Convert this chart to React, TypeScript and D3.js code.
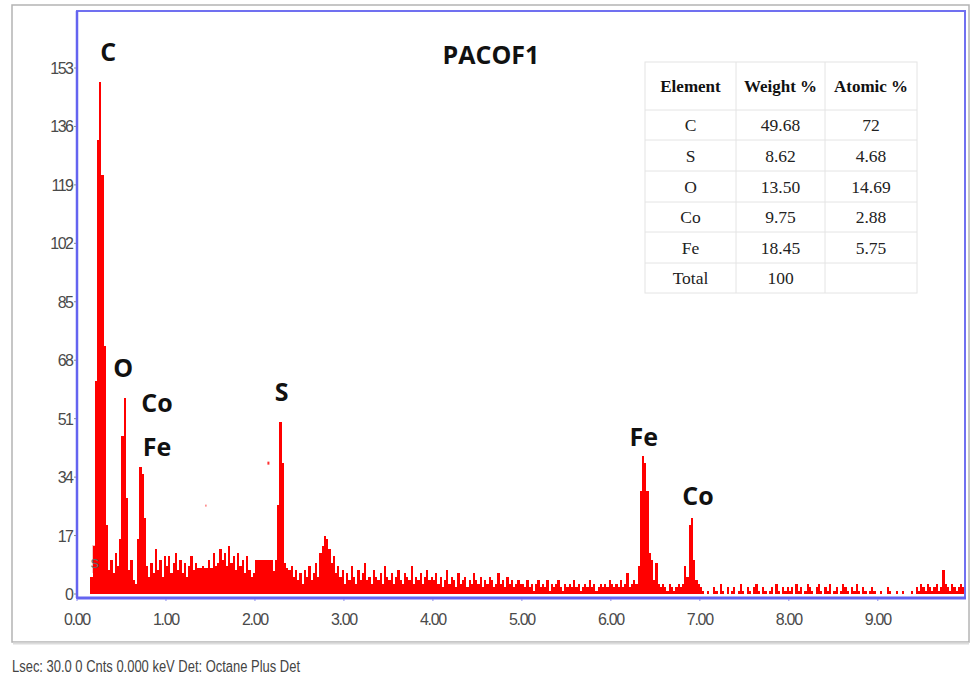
import React from "react";
import * as d3 from "d3";

// ---------- DATA ----------
const chartTitle = "PACOF1";
const footerText = "Lsec: 30.0 0 Cnts  0.000 keV Det: Octane Plus Det";

const xTicks = [0, 1, 2, 3, 4, 5, 6, 7, 8, 9];
const yTicks = [0, 17, 34, 51, 68, 85, 102, 119, 136, 153];

const channelStart = 0.15; // keV
const channelWidth = 0.025; // keV

// counts, per keV segment (0.025 keV channels)
const seg0 = [5, 14, 62, 132, 149, 122, 72, 20, 7, 10, 6, 12, 8, 16, 46, 57, 28, 7, 10, 4, 3, 16, 37, 35, 22, 8, 5, 9, 6, 13, 7, 10, 5, 11];
const seg1 = [8, 11, 6, 9, 12, 7, 10, 6, 9, 5, 8, 11, 7, 9, 7.5, 7.5, 8, 7.5, 7.5, 10, 7.5, 12, 8, 9, 13, 10, 12, 8, 14, 9, 11, 7, 12, 8, 10, 6, 11, 7, 5, 6];
const seg2 = [9.8, 9.8, 9.8, 9.8, 9.8, 9.8, 9.8, 9.8, 6.7, 10, 26, 50, 38, 9, 7.5, 7, 8, 5, 7, 4, 6, 3, 7, 5, 8, 4, 6, 9, 5, 12, 14, 17, 16, 13, 9, 11, 6, 8, 5, 7];
const seg3 = [3, 6, 4, 8, 5, 3, 7, 4, 6, 9, 4, 5, 3, 7, 5, 4, 6, 3, 8, 5, 4, 6, 3, 5, 7, 4, 3, 6, 5, 4, 8, 3, 5, 4, 6, 3, 5, 7, 4, 5];
const seg4 = [4, 6, 3, 5, 2, 4, 7, 3, 5, 4, 2, 6, 3, 4, 5, 2, 4, 3, 6, 4, 3, 5, 2, 4, 3, 5, 4, 2, 3, 6, 3, 4, 2, 5, 3, 4, 2, 3, 4, 3];
const seg5 = [3, 2, 4, 2, 3, 1, 3, 4, 2, 3, 2, 4, 1, 3, 2, 3, 4, 2, 1, 3, 2, 3, 2, 4, 2, 3, 1, 2, 3, 2, 4, 2, 3, 1, 2, 3, 2, 3, 2, 4];
const seg6 = [3, 2, 3, 2, 4, 2, 3, 6, 2, 3, 4, 3, 8, 30, 40, 38, 30, 12, 10, 4, 9, 3, 2, 3, 2, 1, 3, 2, 1, 2, 3, 2, 3, 8, 5, 20, 22, 10, 4, 3];
const seg7 = [2, 1, 0, 1, 0, 0, 2, 1, 0, 3, 1, 0, 2, 0, 1, 2, 0, 1, 3, 1, 0, 2, 1, 0, 2, 3, 1, 0, 2, 1, 0, 1, 2, 0, 3, 1, 0, 2, 1, 2];
const seg8 = [1, 2, 0, 3, 1, 2, 0, 1, 3, 2, 1, 0, 2, 3, 1, 0, 2, 1, 3, 0, 1, 2, 0, 1, 3, 2, 1, 0, 2, 1, 3, 1, 0, 2, 1, 0, 1, 2, 1, 0];
const seg9 = [0, 1, 0, 0, 2, 1, 0, 0, 1, 0, 0, 1, 0, 0, 0, 1, 0, 2, 1, 3, 2, 1, 3, 2, 1, 2, 3, 1, 2, 7, 3, 2, 1, 3, 2, 1, 2, 3, 2];

const peakLabels = ["C", "O", "Co", "Fe", "S", "Fe", "Co"];
const peakLabelEnergy = [0.35, 0.52, 0.9, 0.9, 2.3, 6.37, 6.98];
const peakLabelCounts = [155, 63, 53, 40, 56, 43, 26];

const tableHeader = ["Element", "Weight %", "Atomic %"];
const tableElements = ["C", "S", "O", "Co", "Fe", "Total"];
const tableWeight = ["49.68", "8.62", "13.50", "9.75", "18.45", "100"];
const tableAtomic = ["72", "4.68", "14.69", "2.88", "5.75", ""];

// ---------- CHART ----------
const W = 970;
const H = 683;

export default function App() {
  const counts = [...seg0, ...seg1, ...seg2, ...seg3, ...seg4, ...seg5, ...seg6, ...seg7, ...seg8, ...seg9];
  const channels = counts.map((c, i) => ({ e: channelStart + i * channelWidth, c }));

  const x = d3.scaleLinear().domain([0, 9.98]).range([77, 965]);
  const y = d3.scaleLinear().domain([0, 153]).range([594, 68]);

  const frameTop = 11;
  const frameBottom = 598;

  // table layout
  const tX = [645, 736, 825, 917];
  const tY = [62, 110, 140, 171, 202, 232, 263, 293];

  const tickFont = "'Liberation Sans', Arial, sans-serif";
  const boldFont = "'Open Sans', 'Liberation Sans', sans-serif";
  const serif = "'Liberation Serif', 'Times New Roman', serif";

  return (
    <svg width={W} height={H} style={{ position: "absolute", left: 0, top: 0, background: "#fff" }}>
      {/* outer gray frame */}
      <rect x={12} y={5} width={957} height={637} fill="#fff" stroke="#b4b4b4" strokeWidth={1.5} />
      <line x1={13} x2={969} y1={643.5} y2={643.5} stroke="#dcdcdc" strokeWidth={2} />

      {/* ROI marker */}
      <rect x={x(0.17)} y={545} width={x(0.28) - x(0.17)} height={28} fill="#f08c8c" opacity={0.55} />

      {/* spectrum */}
      <g>
        {channels.map((d, i) =>
          d.c > 0 ? (
            <rect
              key={i}
              x={x(d.e)}
              y={y(d.c)}
              width={x(d.e + channelWidth) - x(d.e)}
              height={y(0) - y(d.c)}
              fill="#ff0000"
              shapeRendering="crispEdges"
            />
          ) : null
        )}
      </g>
      <text x={x(0.2)} y={568} fontFamily={tickFont} fontSize={13} fill="#666" textAnchor="middle">S</text>

      {/* stray dots */}
      <rect x={x(2.14)} y={y(38.5)} width={2} height={3} fill="#ff3030" />
      <rect x={x(1.44)} y={y(26)} width={1.5} height={2} fill="#ff8080" />

      {/* plot frame */}
      <rect x={77} y={frameTop} width={888} height={frameBottom - frameTop} fill="none" stroke="#7070f0" strokeWidth={2} />
      <line x1={77} x2={966} y1={frameBottom} y2={frameBottom} stroke="#6464f0" strokeWidth={3} />
      <line x1={77} x2={77} y1={frameTop} y2={frameBottom} stroke="#6464f0" strokeWidth={2.5} />

      {/* y ticks */}
      {yTicks.map((t) => (
        <g key={t}>
          <line x1={74} x2={76} y1={y(t)} y2={y(t)} stroke="#888" />
          <text
            x={72.5}
            y={y(t) + 6}
            textAnchor="end"
            fontFamily={tickFont}
            fontSize={16}
            letterSpacing={-1.5}
            fill="#4a4a4a"
          >
            {t}
          </text>
        </g>
      ))}

      {/* x ticks */}
      {xTicks.map((t) => (
        <g key={t}>
          <line x1={x(t)} x2={x(t)} y1={frameBottom + 1} y2={frameBottom + 3} stroke="#8888ee" />
          <text
            x={x(t)}
            y={625}
            textAnchor="middle"
            fontFamily={tickFont}
            fontSize={16}
            letterSpacing={-1.3}
            fill="#4a4a4a"
          >
            {t.toFixed(2)}
          </text>
        </g>
      ))}

      {/* title */}
      <text x={491} y={64} textAnchor="middle" fontFamily={boldFont} fontWeight="bold" fontSize={25} fill="#111">
        {chartTitle}
      </text>

      {/* peak labels */}
      {peakLabels.map((l, i) => (
        <text
          key={i}
          x={x(peakLabelEnergy[i])}
          y={y(peakLabelCounts[i])}
          textAnchor="middle"
          fontFamily={boldFont}
          fontWeight="bold"
          fontSize={25}
          fill="#111"
        >
          {l}
        </text>
      ))}

      {/* table */}
      <g>
        <rect x={tX[0]} y={tY[0]} width={tX[3] - tX[0]} height={tY[7] - tY[0]} fill="#fff" stroke="#e4e4e4" />
        {tY.slice(1, 7).map((yy, i) => (
          <line key={"h" + i} x1={tX[0]} x2={tX[3]} y1={yy} y2={yy} stroke="#e4e4e4" />
        ))}
        {tX.slice(1, 3).map((xx, i) => (
          <line key={"v" + i} x1={xx} x2={xx} y1={tY[0]} y2={tY[7]} stroke="#e4e4e4" />
        ))}
        {tableHeader.map((h, i) => (
          <text
            key={h}
            x={(tX[i] + tX[i + 1]) / 2}
            y={92}
            textAnchor="middle"
            fontFamily={serif}
            fontWeight="bold"
            fontSize={17}
            fill="#111"
          >
            {h}
          </text>
        ))}
        {tableElements.map((el, r) => {
          const cy = (tY[r + 1] + tY[r + 2]) / 2 + 6;
          return (
            <g key={el}>
              <text x={(tX[0] + tX[1]) / 2} y={cy} textAnchor="middle" fontFamily={serif} fontSize={17.5} fill="#222">
                {el}
              </text>
              <text x={(tX[1] + tX[2]) / 2} y={cy} textAnchor="middle" fontFamily={serif} fontSize={17.5} fill="#222">
                {tableWeight[r]}
              </text>
              <text x={(tX[2] + tX[3]) / 2} y={cy} textAnchor="middle" fontFamily={serif} fontSize={17.5} fill="#222">
                {tableAtomic[r]}
              </text>
            </g>
          );
        })}
      </g>

      {/* footer */}
      <text x={12} y={672} fontFamily={tickFont} fontSize={16} fill="#444" textLength={288} lengthAdjust="spacingAndGlyphs">
        {footerText}
      </text>
    </svg>
  );
}
